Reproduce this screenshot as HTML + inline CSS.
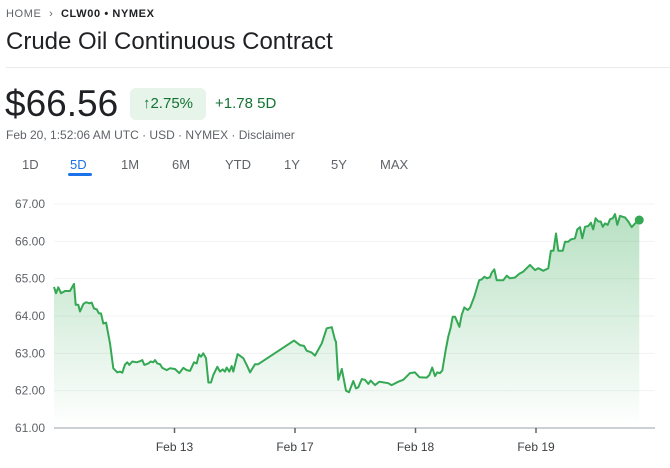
<!DOCTYPE html>
<html><head><meta charset="utf-8"><style>
body{margin:0;width:670px;height:468px;background:#fff;font-family:"Liberation Sans",Arial,sans-serif;position:relative;overflow:hidden}
.a{position:absolute;white-space:nowrap}
</style></head><body>
<div class="a" style="left:6px;top:8px;font-size:11px;letter-spacing:0.6px;color:#5f6368"><span>HOME</span> <span style="margin:0 4px">&#x203A;</span> <span style="color:#202124;font-weight:bold">CLW00 • NYMEX</span></div>
<div class="a" style="left:6px;top:28px;font-size:24px;color:#202124">Crude Oil Continuous Contract</div>
<div class="a" style="left:6px;top:67px;width:664px;height:1px;background:#e8eaed"></div>
<div class="a" style="left:5px;top:83px;font-size:37px;color:#202124">$66.56</div>
<div class="a" style="left:130px;top:88px;width:76px;height:32px;border-radius:6px;background:#e6f4ea;color:#137333;font-size:15px;line-height:32px;text-align:center">&#x2191;2.75%</div>
<div class="a" style="left:215px;top:95px;font-size:15px;color:#137333">+1.78 5D</div>
<div class="a" style="left:6px;top:128px;font-size:12px;color:#5f6368">Feb 20, 1:52:06 AM UTC · USD · NYMEX · <span>Disclaimer</span></div>
<div>
<div class="a" style="left:22px;top:157px;font-size:13px;color:#5f6368">1D</div>
<div class="a" style="left:70px;top:157px;font-size:13px;color:#1a73e8">5D</div>
<div class="a" style="left:68px;top:173px;width:24px;height:3px;background:#1a73e8;border-radius:2px"></div>
<div class="a" style="left:121px;top:157px;font-size:13px;color:#5f6368">1M</div>
<div class="a" style="left:172px;top:157px;font-size:13px;color:#5f6368">6M</div>
<div class="a" style="left:225px;top:157px;font-size:13px;color:#5f6368">YTD</div>
<div class="a" style="left:284px;top:157px;font-size:13px;color:#5f6368">1Y</div>
<div class="a" style="left:331px;top:157px;font-size:13px;color:#5f6368">5Y</div>
<div class="a" style="left:380px;top:157px;font-size:13px;color:#5f6368">MAX</div>
</div>
<svg id="chart" class="a" style="left:0;top:0" width="670" height="468">
<defs><linearGradient id="g" x1="0" y1="0" x2="0" y2="1"><stop offset="0" stop-color="#34a853" stop-opacity="0.35"/><stop offset="1" stop-color="#34a853" stop-opacity="0"/></linearGradient></defs>
</svg>
<script>
const yTicks=[61,62,63,64,65,66,67];
const xTickLabels=["Feb 13","Feb 17","Feb 18","Feb 19"];
const xTickDays=[1,2,3,4];
const times=[0,.017,.036,.058,.091,.133,.155,.166,.180,.202,.216,.243,.266,.293,.313,.332,.354,.373,.390,.409,.432,.465,.492,.525,.548,.567,.589,.608,.625,.650,.686,.714,.733,.749,.783,.802,.824,.838,.857,.880,.899,.935,.963,1.004,1.040,1.073,1.101,1.129,1.162,1.184,1.203,1.220,1.239,1.261,1.281,1.303,1.322,1.355,1.378,1.400,1.419,1.433,1.455,1.475,1.488,1.524,1.571,1.599,1.627,1.668,1.695,1.992,2.041,2.075,2.097,2.139,2.166,2.222,2.263,2.305,2.332,2.340,2.359,2.388,2.423,2.448,2.484,2.506,2.525,2.554,2.581,2.608,2.628,2.664,2.700,2.774,2.802,2.857,2.899,2.954,2.996,3.032,3.093,3.115,3.139,3.162,3.181,3.203,3.222,3.251,3.272,3.292,3.309,3.328,3.364,3.383,3.405,3.433,3.452,3.488,3.529,3.549,3.571,3.593,3.618,3.632,3.654,3.674,3.729,3.757,3.784,3.826,3.861,3.895,3.923,3.950,3.992,4.019,4.061,4.102,4.124,4.145,4.166,4.185,4.222,4.241,4.268,4.288,4.324,4.343,4.365,4.384,4.407,4.434,4.456,4.475,4.495,4.517,4.537,4.554,4.573,4.595,4.614,4.637,4.656,4.675,4.697,4.739,4.766,4.794,4.822,4.857];
const prices=[64.78,64.61,64.77,64.61,64.67,64.67,64.80,64.86,64.30,64.30,64.12,64.32,64.37,64.34,64.36,64.20,64.18,64.07,64.07,63.80,63.82,63.27,62.60,62.49,62.51,62.48,62.70,62.76,62.69,62.78,62.76,62.79,62.82,62.69,62.73,62.78,62.76,62.82,62.73,62.71,62.61,62.55,62.60,62.58,62.47,62.61,62.55,62.53,62.76,62.73,62.97,62.91,63.00,62.87,62.22,62.22,62.42,62.64,62.51,62.57,62.51,62.62,62.51,62.66,62.51,62.98,62.87,62.69,62.49,62.71,62.71,63.34,63.22,63.20,63.07,63.02,62.94,63.27,63.67,63.70,63.36,63.31,62.29,62.58,62.00,61.96,62.26,62.06,62.09,62.31,62.29,62.18,62.27,62.15,62.24,62.20,62.15,62.24,62.29,62.47,62.49,62.36,62.35,62.42,62.62,62.39,62.49,62.47,62.54,63.09,63.45,63.69,63.98,63.98,63.71,64.03,64.23,64.16,64.22,64.52,64.96,64.98,65.05,65.01,65.04,65.16,65.25,64.96,64.96,65.08,65.01,65.03,65.13,65.19,65.28,65.37,65.23,65.28,65.21,65.28,65.75,65.75,66.21,65.75,65.75,65.99,65.99,66.05,66.08,66.32,66.38,66.08,66.39,66.41,66.50,66.32,66.62,66.53,66.53,66.39,66.48,66.44,66.59,66.62,66.73,66.44,66.68,66.64,66.53,66.38,66.48,66.57];
const NS='http://www.w3.org/2000/svg',svg=document.getElementById('chart');
const X0=54,X1=655,Y0=428,Y1=204;
const xs=t=>X0+t*120.5;
const ys=v=>Y0-(v-61)/(67-61)*(Y0-Y1);
function mk(tag,at){const e=document.createElementNS(NS,tag);for(const k in at)e.setAttribute(k,at[k]);svg.appendChild(e);return e;}
yTicks.forEach(v=>{
 if(v>61){const l=mk('line',{x1:X0,x2:X1,y1:ys(v),y2:ys(v),stroke:'#f1f3f4','stroke-width':1});
 
 }
 const t=mk('text',{x:45,y:ys(v)+4,'text-anchor':'end','font-size':12,fill:'#5f6368','font-family':'Liberation Sans, sans-serif'});
 t.textContent=v.toFixed(2);
 
 
});
let d='';times.forEach((t,i)=>{d+=(i?'L':'M')+xs(t).toFixed(1)+','+ys(prices[i]).toFixed(1);});
const n=times.length-1;
const area=mk('path',{d:d+'L'+xs(times[n])+','+Y0+'L'+xs(times[0])+','+Y0+'Z',fill:'url(#g)'});


const ax=mk('line',{x1:X0,x2:X1,y1:Y0,y2:Y0,stroke:'#9aa0a6','stroke-width':1});


xTickDays.forEach((dd,i)=>{
 const tk=mk('line',{x1:xs(dd),x2:xs(dd),y1:Y0,y2:Y0+5,stroke:'#5f6368','stroke-width':1.5});
 
 
 const t=mk('text',{x:xs(dd),y:451,'text-anchor':'middle','font-size':12,fill:'#3c4043','font-family':'Liberation Sans, sans-serif'});
 t.textContent=xTickLabels[i];
 
 
});
const line=mk('path',{d:d,fill:'none',stroke:'#34a853','stroke-width':2,'stroke-linejoin':'round'});


const dot=mk('circle',{cx:xs(times[n]),cy:ys(prices[n]),r:4.5,fill:'#34a853'});


</script>
</body></html>
